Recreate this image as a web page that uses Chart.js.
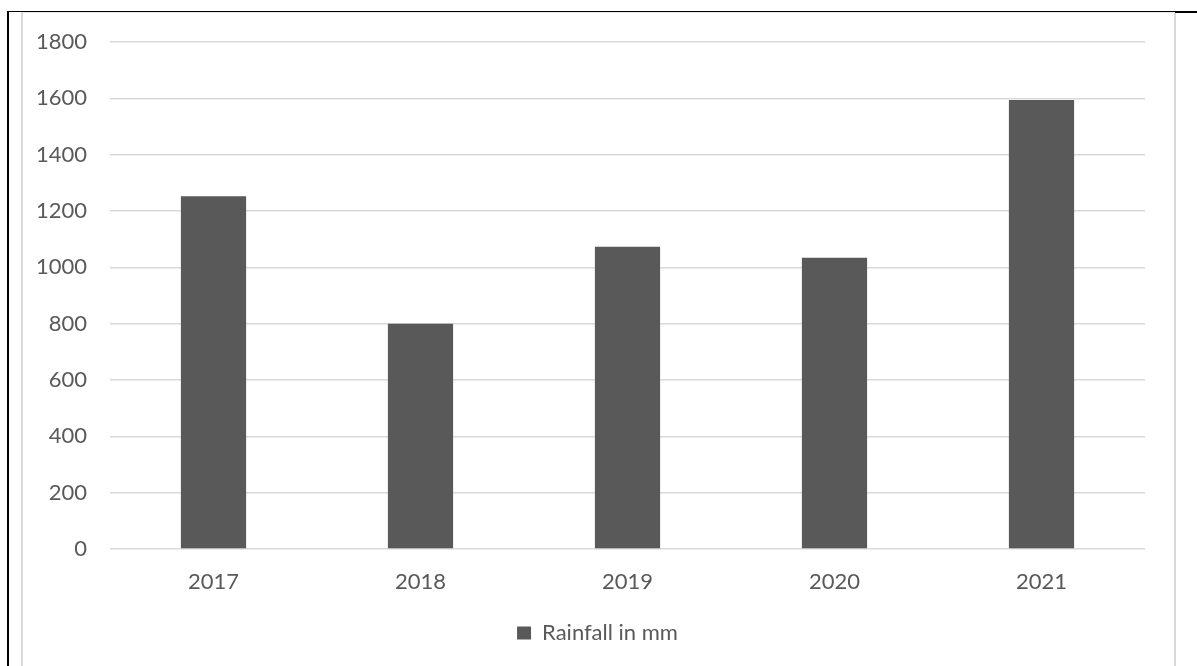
<!DOCTYPE html>
<html>
<head>
<meta charset="utf-8">
<script src="https://cdn.jsdelivr.net/npm/chart.js@4"></script>
<style>
  html, body { margin: 0; padding: 0; background: #fff; }
  #wrap { position: relative; width: 1197px; height: 666px; overflow: hidden; }
  #grijs { position: absolute; left: 21px; top: 12px; width: 1151px; height: 700px;
           border-left: 2px solid #d9d9d9; border-right: 2px solid #d9d9d9; border-top: 1px solid #e6e6e6; }
  #zwartL { position: absolute; left: 7px; top: 11px; width: 2px; height: 700px; background: #000; }
  #zwartT { position: absolute; left: 7px; top: 11px; width: 1190px; height: 1px; background: #000; }
  #zwartT2 { position: absolute; left: 1175px; top: 11px; width: 22px; height: 2px; background: #000; }
  #chartBox { position: absolute; left: 0; top: 0; width: 1197px; height: 666px; }
</style>
</head>
<body>
<div id="wrap">
  <div id="grijs"></div>
  <div id="zwartL"></div>
  <div id="zwartT"></div>
  <div id="zwartT2"></div>
  <div id="chartBox"><canvas id="mijnGrafiek" width="1197" height="666"></canvas></div>
</div>
<script>
const jaren = ['2017', '2018', '2019', '2020', '2021'];
const regenval = [1252, 800, 1073, 1034, 1594];
const reeksNaam = 'Rainfall in mm';

const tekstKleur = '#595959';
const lettertype = { family: 'Lato', size: 22 };

// legenda staat in het origineel iets rechts van het midden
const legendaVerschuiving = {
    id: 'legendaVerschuiving',
    afterLayout(chart) {
        const lg = chart.legend;
        if (lg) { lg.left += 25; lg.right += 25; }
    }
};

const ctx = document.getElementById('mijnGrafiek').getContext('2d');
new Chart(ctx, {
    type: 'bar',
    data: {
        labels: jaren,
        datasets: [{
            label: reeksNaam,
            data: regenval,
            backgroundColor: '#595959',
            borderWidth: 0,
            barPercentage: 0.315,
            categoryPercentage: 1
        }]
    },
    plugins: [legendaVerschuiving],
    options: {
        responsive: false,
        animation: false,
        devicePixelRatio: 1,
        layout: { padding: { left: 0, right: 52, top: 42, bottom: 12 } },
        plugins: {
            tooltip: { enabled: false },
            legend: {
                position: 'bottom',
                labels: {
                    boxWidth: 14,
                    boxHeight: 13,
                    padding: 10,
                    color: tekstKleur,
                    font: lettertype
                }
            }
        },
        scales: {
            x: {
                grid: { display: false },
                border: { display: false },
                ticks: { color: tekstKleur, padding: 12, font: lettertype },
                afterFit: s => { s.height = 63; }
            },
            y: {
                min: 0,
                max: 1800,
                grid: { color: '#d9d9d9', lineWidth: 1.5, drawTicks: false },
                border: { display: false },
                ticks: {
                    stepSize: 200,
                    color: tekstKleur,
                    padding: 23,
                    font: lettertype,
                    callback: v => String(v)
                },
                afterFit: s => { s.width = 110; }
            }
        }
    }
});
</script>
</body>
</html>
